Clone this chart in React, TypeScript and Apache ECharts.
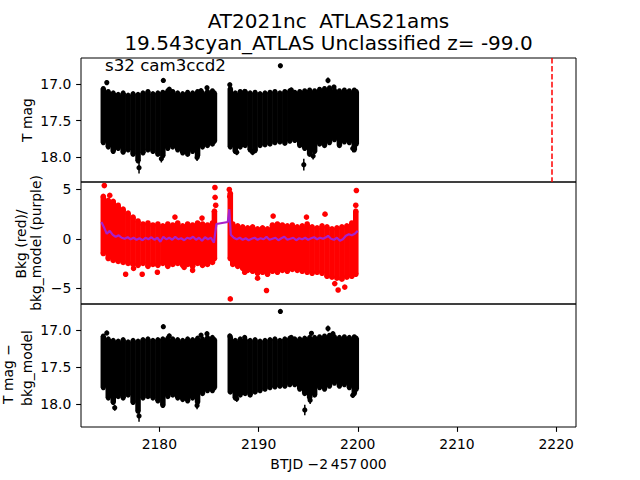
import React, { useEffect, useRef } from 'react';
import * as echarts from 'echarts';

// ---------- text ----------
const titleLines = ['AT2021nc  ATLAS21ams', '19.543cyan_ATLAS Unclassified z= -99.0'];
const annotation = 's32 cam3ccd2';
const xAxisLabel = 'BTJD \u22122\u2009457\u2009000';
const yLabelTop = 'T mag';
const yLabelMid = ['Bkg (red)/', 'bkg_model (purple)'];
const yLabelBot = ['T mag \u2212', 'bkg_model'];

// ---------- ticks / ranges ----------
const xTicks = [2180, 2190, 2200, 2210, 2220];
const magTicks = [17.0, 17.5, 18.0];
const bkgTicks = [-5, 0, 5];
const xRange = [2172.1, 2222.0];
const magRange1 = [16.644, 18.336];
const bkgRange = [-6.62, 5.76];
const magRange3 = [16.649, 18.31];
const markerTime = 2219.55;

// ---------- panel 1: T mag, envelope per half-day [t, brightest, faintest] ----------
const tmagSeg1 = [
  [2174.35, 17.06, 17.80], [2174.85, 17.10, 17.86], [2175.35, 17.12, 17.92], [2175.85, 17.14, 17.88],
  [2176.35, 17.12, 17.93], [2176.85, 17.15, 17.90], [2177.35, 17.13, 17.96], [2177.85, 17.14, 18.05],
  [2178.35, 17.12, 17.94], [2178.85, 17.10, 17.90], [2179.35, 17.13, 17.92], [2179.85, 17.12, 17.96],
  [2180.35, 17.11, 17.98], [2180.85, 17.09, 17.88], [2181.35, 17.10, 17.86], [2181.85, 17.12, 17.90],
  [2182.35, 17.13, 17.94], [2182.85, 17.11, 17.96], [2183.35, 17.12, 17.92], [2183.85, 17.10, 17.98],
  [2184.35, 17.12, 17.86], [2184.85, 17.10, 17.84], [2185.35, 17.09, 17.82], [2185.55, 17.12, 17.78],
];
const tmagSeg2 = [
  [2187.15, 17.06, 17.86], [2187.65, 17.12, 17.92], [2188.15, 17.10, 17.86], [2188.65, 17.10, 17.84],
  [2189.15, 17.12, 17.90], [2189.65, 17.11, 17.91], [2190.15, 17.13, 17.84], [2190.65, 17.12, 17.83],
  [2191.15, 17.11, 17.82], [2191.65, 17.10, 17.80], [2192.15, 17.12, 17.79], [2192.65, 17.10, 17.81],
  [2193.15, 17.09, 17.78], [2193.65, 17.11, 17.77], [2194.15, 17.10, 17.84], [2194.65, 17.09, 17.88],
  [2195.15, 17.08, 17.96], [2195.65, 17.09, 17.92], [2196.15, 17.07, 17.82], [2196.65, 17.06, 17.84],
  [2197.15, 17.05, 17.80], [2197.65, 17.08, 17.76], [2198.15, 17.09, 17.84], [2198.65, 17.08, 17.79],
  [2199.15, 17.09, 17.80], [2199.65, 17.08, 17.90], [2199.85, 17.10, 17.82],
];
// isolated points [t, mag, err]
const tmagPoints = [
  [2174.7, 16.98, 0.03], [2180.4, 16.95, 0.03], [2181.0, 17.07, 0.03], [2184.2, 17.09, 0.03],
  [2184.8, 17.05, 0.03], [2187.1, 17.01, 0.03], [2188.6, 17.10, 0.03], [2192.2, 16.75, 0.03],
  [2193.3, 17.08, 0.03], [2197.0, 16.95, 0.04], [2197.6, 17.04, 0.03],
  [2177.95, 18.14, 0.08], [2180.2, 18.02, 0.05], [2183.8, 18.00, 0.05], [2187.8, 17.93, 0.04],
  [2189.4, 17.93, 0.04], [2194.56, 18.10, 0.08], [2195.2, 17.92, 0.06], [2195.5, 17.98, 0.05],
  [2199.5, 17.88, 0.05],
];

// ---------- panel 2: background ----------
const bkgSeg1 = [
  [2174.35, 4.3, -1.5], [2174.85, 3.9, -2.0], [2175.35, 3.8, -2.2], [2175.85, 3.4, -2.3],
  [2176.35, 3.0, -2.4], [2176.85, 2.6, -2.5], [2177.35, 2.2, -2.6], [2177.85, 1.8, -2.7],
  [2178.35, 1.5, -2.5], [2178.85, 1.6, -2.8], [2179.35, 1.4, -2.6], [2179.85, 1.5, -2.7],
  [2180.35, 1.3, -2.5], [2180.85, 1.5, -2.8], [2181.35, 1.4, -2.6], [2181.85, 1.6, -2.5],
  [2182.35, 1.3, -2.7], [2182.85, 1.5, -2.6], [2183.35, 1.4, -2.8], [2183.85, 1.6, -2.5],
  [2184.35, 1.5, -2.7], [2184.85, 1.4, -2.6], [2185.35, 1.6, -2.4], [2185.55, 2.8, -2.0],
];
const bkgSeg2 = [
  [2187.15, 4.6, -2.0], [2187.4, 1.5, -2.6], [2187.9, 1.3, -2.8], [2188.4, 1.2, -3.0],
  [2188.9, 1.1, -3.2], [2189.4, 1.2, -3.3], [2189.9, 1.0, -3.5], [2190.4, 1.1, -3.4],
  [2190.9, 1.0, -3.6], [2191.4, 1.4, -3.3], [2191.9, 1.5, -3.4], [2192.4, 1.4, -3.2],
  [2192.9, 1.3, -3.3], [2193.4, 1.4, -3.1], [2193.9, 1.2, -3.2], [2194.4, 1.3, -3.3],
  [2194.9, 1.5, -3.4], [2195.4, 1.2, -3.5], [2195.9, 1.1, -3.4], [2196.4, 1.3, -3.5],
  [2196.9, 1.2, -3.8], [2197.4, 1.0, -3.9], [2197.9, 1.1, -4.0], [2198.4, 1.2, -4.1],
  [2198.9, 1.3, -3.9], [2199.4, 1.6, -3.8], [2199.8, 2.8, -3.6],
];
const bkgPoints = [
  [2174.45, 5.4], [2175.0, 4.4], [2176.6, -3.6], [2177.4, -3.0], [2178.27, -3.6], [2179.8, -3.4],
  [2181.57, 2.2], [2182.5, -2.9], [2183.35, -3.2], [2184.3, 2.1], [2185.6, 5.2], [2185.62, 4.2],
  [2185.68, 3.4], [2187.05, 5.0], [2187.1, 4.3], [2187.15, -6.1], [2188.6, -3.4], [2189.9, -4.0],
  [2190.8, -5.25], [2191.47, 2.3], [2194.83, 2.2], [2196.7, 2.5], [2197.68, -4.55], [2198.02, -5.2],
  [2198.69, -4.9], [2199.86, 4.9], [2199.8, 3.4],
];
const bkgModel = [
  [2174.15, 1.7], [2174.4, 1.2], [2174.7, 0.5], [2175.0, 0.8], [2175.3, 0.4], [2175.6, 0.2],
  [2175.9, 0.35], [2176.2, 0.1], [2176.5, 0.0], [2176.8, 0.15], [2177.1, -0.05], [2177.4, 0.1],
  [2177.7, -0.1], [2178.0, 0.05], [2178.3, -0.15], [2178.6, 0.1], [2178.9, -0.05], [2179.2, 0.15],
  [2179.5, -0.1], [2179.8, 0.1], [2180.1, -0.3], [2180.4, 0.2], [2180.7, -0.05], [2181.0, 0.1],
  [2181.3, -0.1], [2181.6, 0.2], [2181.9, -0.05], [2182.2, 0.05], [2182.5, -0.15], [2182.8, 0.1],
  [2183.1, 0.0], [2183.4, 0.2], [2183.7, -0.1], [2184.0, 0.1], [2184.3, -0.2], [2184.6, 0.15],
  [2184.9, -0.05], [2185.2, 0.1], [2185.5, -0.4], [2185.75, 1.5], [2186.9, 1.7], [2187.05, 3.0],
  [2187.2, 0.4], [2187.5, 0.1], [2187.8, -0.05], [2188.1, 0.1], [2188.4, -0.1], [2188.7, 0.05],
  [2189.0, -0.15], [2189.3, 0.0], [2189.6, 0.1], [2189.9, -0.1], [2190.2, 0.05], [2190.5, -0.05],
  [2190.8, 0.2], [2191.1, -0.1], [2191.4, 0.0], [2191.7, 0.1], [2192.0, -0.15], [2192.3, 0.05],
  [2192.6, 0.2], [2192.9, -0.1], [2193.2, 0.0], [2193.5, 0.1], [2193.8, -0.15], [2194.1, 0.05],
  [2194.4, -0.05], [2194.7, 0.1], [2195.0, -0.1], [2195.3, 0.05], [2195.6, 0.15], [2195.9, -0.05],
  [2196.2, 0.1], [2196.5, 0.0], [2196.8, 0.15], [2197.0, 0.3], [2197.3, 0.0], [2197.6, -0.1],
  [2197.9, 0.1], [2198.2, -0.2], [2198.5, -0.05], [2198.8, 0.3], [2199.1, 0.45], [2199.4, 0.35],
  [2199.7, 0.5], [2200.0, 0.8],
];

// ---------- panel 3: T mag - bkg_model ----------
const corrSeg1 = [
  [2174.35, 17.08, 17.78], [2174.85, 17.12, 17.92], [2175.35, 17.14, 17.98], [2175.85, 17.15, 17.90],
  [2176.35, 17.13, 17.92], [2176.85, 17.16, 17.88], [2177.35, 17.14, 17.98], [2177.85, 17.15, 18.10],
  [2178.35, 17.13, 17.92], [2178.85, 17.12, 17.90], [2179.35, 17.14, 17.92], [2179.85, 17.13, 17.96],
  [2180.35, 17.12, 18.02], [2180.85, 17.11, 17.90], [2181.35, 17.12, 17.88], [2181.85, 17.13, 17.92],
  [2182.35, 17.14, 17.94], [2182.85, 17.12, 17.96], [2183.35, 17.13, 17.92], [2183.85, 17.11, 17.98],
  [2184.35, 17.12, 17.86], [2184.85, 17.10, 17.82], [2185.35, 17.10, 17.82], [2185.55, 17.13, 17.78],
];
const corrSeg2 = [
  [2187.15, 17.09, 17.84], [2187.65, 17.14, 17.92], [2188.15, 17.12, 17.88], [2188.65, 17.13, 17.86],
  [2189.15, 17.14, 17.88], [2189.65, 17.13, 17.84], [2190.15, 17.15, 17.82], [2190.65, 17.14, 17.80],
  [2191.15, 17.13, 17.78], [2191.65, 17.12, 17.77], [2192.15, 17.14, 17.76], [2192.65, 17.12, 17.76],
  [2193.15, 17.11, 17.74], [2193.65, 17.12, 17.74], [2194.15, 17.12, 17.80], [2194.65, 17.11, 17.86],
  [2195.15, 17.10, 17.92], [2195.65, 17.10, 17.88], [2196.15, 17.09, 17.78], [2196.65, 17.08, 17.80],
  [2197.15, 17.07, 17.76], [2197.65, 17.09, 17.72], [2198.15, 17.10, 17.76], [2198.65, 17.09, 17.74],
  [2199.15, 17.10, 17.78], [2199.65, 17.09, 17.86], [2199.85, 17.11, 17.80],
];
const corrPoints = [
  [2174.7, 17.04, 0.03], [2180.4, 16.955, 0.03], [2181.0, 17.08, 0.03], [2184.2, 17.07, 0.03],
  [2184.8, 17.05, 0.03], [2187.1, 17.08, 0.03], [2188.6, 17.10, 0.03], [2192.2, 16.75, 0.03],
  [2193.3, 17.10, 0.03], [2195.33, 17.045, 0.03], [2197.0, 16.98, 0.04], [2197.5, 17.05, 0.03],
  [2177.95, 18.16, 0.08], [2183.8, 18.02, 0.05], [2194.66, 18.08, 0.07], [2195.2, 17.95, 0.05],
  [2199.5, 17.88, 0.04], [2175.5, 18.05, 0.04], [2187.8, 17.93, 0.04],
];

// ---------- style ----------
const FONT = 'DejaVu Sans';
const HALF_BIN = 0.28;
const PURPLE = '#a620cc';

function bandRenderer(color: string, r: number) {
  return (_params: any, api: any) => {
    const t = api.value(0);
    const a = api.coord([t, api.value(1)]);
    const b = api.coord([t, api.value(2)]);
    const l = api.coord([t - HALF_BIN, api.value(1)]);
    const rr = api.coord([t + HALF_BIN, api.value(1)]);
    const y0 = Math.min(a[1], b[1]);
    const h = Math.abs(b[1] - a[1]);
    return {
      type: 'group',
      children: [
        { type: 'rect', shape: { x: l[0], y: y0, width: rr[0] - l[0], height: h }, style: { fill: color } },
        { type: 'circle', shape: { cx: a[0], cy: a[1], r }, style: { fill: color } },
        { type: 'circle', shape: { cx: b[0], cy: b[1], r }, style: { fill: color } },
      ],
    };
  };
}

function errRenderer(color: string, r: number) {
  return (_params: any, api: any) => {
    const t = api.value(0);
    const m = api.value(1);
    const e = api.value(2);
    const c = api.coord([t, m]);
    const lo = api.coord([t, m - e]);
    const hi = api.coord([t, m + e]);
    return {
      type: 'group',
      children: [
        { type: 'line', shape: { x1: lo[0], y1: lo[1], x2: hi[0], y2: hi[1] }, style: { stroke: color, lineWidth: 1.5 } },
        { type: 'circle', shape: { cx: c[0], cy: c[1], r }, style: { fill: color } },
      ],
    };
  };
}

const fmtTick = (ticks: number[], digits: number) => (v: number) => {
  const hit = ticks.find((t) => Math.abs(t - v) < 1e-6);
  if (hit === undefined) return '';
  const s = Math.abs(hit).toFixed(digits);
  return hit < 0 ? '\u2212' + s : s;
};

function yAxis(gridIndex: number, range: number[], inverse: boolean, ticks: number[], digits: number) {
  return {
    type: 'value',
    gridIndex,
    min: range[0],
    max: range[1],
    inverse,
    splitNumber: 3,
    splitLine: { show: false },
    axisLine: { show: false },
    axisTick: { show: true, length: 4.86, lineStyle: { color: '#000', width: 1.1 }, customValues: ticks },
    axisLabel: {
      show: true,
      customValues: ticks,
      formatter: fmtTick(ticks, digits),
      color: '#000',
      fontSize: 13.9,
      fontFamily: FONT,
      margin: 9.7,
    },
  };
}

function xAxis(gridIndex: number, showLabels: boolean) {
  return {
    type: 'value',
    gridIndex,
    min: xRange[0],
    max: xRange[1],
    splitNumber: 5,
    splitLine: { show: false },
    axisLine: { show: false },
    axisTick: {
      show: showLabels,
      length: 4.86,
      lineStyle: { color: '#000', width: 1.1 },
      customValues: xTicks,
    },
    axisLabel: {
      show: showLabels,
      customValues: xTicks,
      formatter: fmtTick(xTicks, 0),
      color: '#000',
      fontSize: 13.9,
      fontFamily: FONT,
      margin: 9.7,
    },
  };
}

const gridBox = { show: true, borderColor: '#000', borderWidth: 1, backgroundColor: 'transparent', left: 81, width: 495 };

function rotatedText(text: string, x: number, y: number, size: number) {
  return {
    type: 'text',
    x,
    y,
    rotation: Math.PI / 2,
    style: { text, x: 0, y: 0, fill: '#000', font: `${size}px "${FONT}"`, textAlign: 'center', textVerticalAlign: 'middle', verticalAlign: 'middle' },
  };
}

function plainText(text: string, x: number, y: number, size: number, align: string) {
  return {
    type: 'text',
    x,
    y,
    style: { text, x: 0, y: 0, fill: '#000', font: `${size}px "${FONT}"`, textAlign: align, textVerticalAlign: 'middle', verticalAlign: 'middle' },
  };
}

export default function App() {
  const ref = useRef<HTMLDivElement>(null);
  useEffect(() => {
    if (!ref.current) return;
    const chart = echarts.init(ref.current, undefined, { renderer: 'svg' });
    const option: any = {
      animation: false,
      backgroundColor: '#fff',
      grid: [
        { ...gridBox, top: 58, height: 124 },
        { ...gridBox, top: 182, height: 122 },
        { ...gridBox, top: 304, height: 123 },
      ],
      xAxis: [xAxis(0, false), xAxis(1, false), xAxis(2, true)],
      yAxis: [
        yAxis(0, magRange1, true, magTicks, 1),
        yAxis(1, bkgRange, false, bkgTicks, 0),
        yAxis(2, magRange3, true, magTicks, 1),
      ],
      series: [
        { type: 'custom', xAxisIndex: 0, yAxisIndex: 0, clip: true, renderItem: bandRenderer('#000', 2.5), data: tmagSeg1 },
        { type: 'custom', xAxisIndex: 0, yAxisIndex: 0, clip: true, renderItem: bandRenderer('#000', 2.5), data: tmagSeg2 },
        { type: 'custom', xAxisIndex: 0, yAxisIndex: 0, clip: true, renderItem: errRenderer('#000', 2.6), data: tmagPoints },
        {
          type: 'line',
          xAxisIndex: 0,
          yAxisIndex: 0,
          data: [],
          markLine: {
            silent: true,
            symbol: ['none', 'none'],
            label: { show: false },
            lineStyle: { color: '#ff0000', width: 1.5, type: [5.55, 2.4] },
            data: [{ xAxis: markerTime }],
          },
        },
        { type: 'custom', xAxisIndex: 1, yAxisIndex: 1, clip: true, renderItem: bandRenderer('#ff0000', 2.8), data: bkgSeg1 },
        { type: 'custom', xAxisIndex: 1, yAxisIndex: 1, clip: true, renderItem: bandRenderer('#ff0000', 2.8), data: bkgSeg2 },
        {
          type: 'scatter',
          xAxisIndex: 1,
          yAxisIndex: 1,
          symbolSize: 5.6,
          itemStyle: { color: '#ff0000', opacity: 1 },
          data: bkgPoints,
        },
        {
          type: 'line',
          xAxisIndex: 1,
          yAxisIndex: 1,
          showSymbol: false,
          z: 5,
          lineStyle: { color: PURPLE, width: 2.2 },
          data: bkgModel,
        },
        { type: 'custom', xAxisIndex: 2, yAxisIndex: 2, clip: true, renderItem: bandRenderer('#000', 2.5), data: corrSeg1 },
        { type: 'custom', xAxisIndex: 2, yAxisIndex: 2, clip: true, renderItem: bandRenderer('#000', 2.5), data: corrSeg2 },
        { type: 'custom', xAxisIndex: 2, yAxisIndex: 2, clip: true, renderItem: errRenderer('#000', 2.6), data: corrPoints },
      ],
      graphic: [
        plainText(titleLines[0], 328.5, 20.5, 20, 'center'),
        plainText(titleLines[1], 328.5, 43, 20, 'center'),
        plainText(annotation, 105, 65, 16.67, 'left'),
        plainText(xAxisLabel, 328.5, 463.5, 13.9, 'center'),
        rotatedText(yLabelTop, 26.5, 120, 13.9),
        rotatedText(yLabelMid[0], 20.5, 244, 13.9),
        rotatedText(yLabelMid[1], 35.5, 243, 13.9),
        rotatedText(yLabelBot[0], 7.5, 374, 13.9),
        rotatedText(yLabelBot[1], 26.5, 368, 13.9),
      ],
    };
    chart.setOption(option);
    return () => chart.dispose();
  }, []);
  return <div ref={ref} style={{ position: 'absolute', left: 0, top: 0, width: 640, height: 480 }} />;
}
